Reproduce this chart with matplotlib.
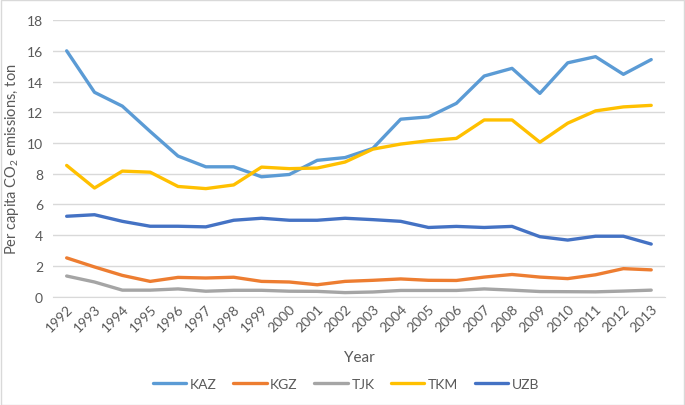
import matplotlib
matplotlib.use("Agg")
import matplotlib.pyplot as plt
from matplotlib.patches import Rectangle

years = list(range(1992, 2014))
kaz = [16.0, 13.3, 12.4, 10.75, 9.15, 8.45, 8.45, 7.8, 7.95, 8.87, 9.05, 9.65,
       11.55, 11.7, 12.58, 14.36, 14.86, 13.23, 15.22, 15.62, 14.47, 15.43]
kgz = [2.52, 1.93, 1.38, 0.99, 1.25, 1.21, 1.26, 0.99, 0.95, 0.77, 0.99, 1.06,
       1.15, 1.06, 1.05, 1.27, 1.44, 1.27, 1.17, 1.42, 1.82, 1.74]
tjk = [1.34, 0.95, 0.42, 0.42, 0.5, 0.35, 0.41, 0.41, 0.35, 0.34, 0.26, 0.3,
       0.4, 0.4, 0.4, 0.5, 0.42, 0.33, 0.32, 0.31, 0.36, 0.42]
tkm = [8.54, 7.07, 8.17, 8.1, 7.17, 7.03, 7.27, 8.43, 8.33, 8.37, 8.76, 9.6,
       9.93, 10.15, 10.3, 11.5, 11.5, 10.05, 11.29, 12.09, 12.35, 12.45]
uzb = [5.23, 5.33, 4.9, 4.58, 4.58, 4.54, 4.97, 5.1, 4.97, 4.97, 5.1, 5.01,
       4.9, 4.5, 4.57, 4.5, 4.57, 3.9, 3.68, 3.93, 3.93, 3.42]
series = [("KAZ", kaz, "#5B9BD5"), ("KGZ", kgz, "#ED7D31"), ("TJK", tjk, "#A5A5A5"),
          ("TKM", tkm, "#FFC000"), ("UZB", uzb, "#4472C4")]
yticks = [0, 2, 4, 6, 8, 10, 12, 14, 16, 18]

plt.rcParams['font.family'] = ['Lato', 'DejaVu Sans']
txt = "#595959"

fig = plt.figure(figsize=(6.85, 4.06), dpi=100)
fig.patches.append(Rectangle((0.001, 0.001), 0.997, 0.997, transform=fig.transFigure,
                             fill=False, edgecolor="#D9D9D9", lw=1))
ax = fig.add_axes([0.077, 0.267, 0.894, 0.681])
x = list(range(len(years)))
for name, vals, col in series:
    ax.plot(x, vals, color=col, lw=2.4, label=name, solid_capstyle='round')

ax.set_xlim(-0.5, len(years) - 0.5)
ax.set_ylim(0, 18)
ax.set_yticks(yticks)
ax.set_yticklabels([str(v) for v in yticks], color=txt, fontsize=10)
ax.set_xticks(x)
ax.set_xticklabels([str(y) for y in years], rotation=45, ha='right',
                   rotation_mode='anchor', color=txt, fontsize=10)
ax.tick_params(length=0, pad=7)
ax.tick_params(axis='x', pad=4)
ax.grid(axis='y', color="#D9D9D9", lw=1)
ax.set_axisbelow(True)
for s in ['top', 'right', 'left']:
    ax.spines[s].set_visible(False)
ax.spines['bottom'].set_color("#D9D9D9")
ax.set_xlabel("Year", color=txt, fontsize=11, labelpad=12)
ax.set_ylabel(r"Per capita CO$_{\mathregular{2}}$ emissions, ton", color=txt, fontsize=10.5)
ax.yaxis.set_label_coords(-0.052, 0.5)
leg = ax.legend(loc='upper center', bbox_to_anchor=(0.479, -0.25), ncol=5, frameon=False,
                fontsize=10, handlelength=2.4, columnspacing=1.2, handletextpad=0.25)
for t in leg.get_texts():
    t.set_color(txt)

fig.savefig("out.png", dpi=100)
